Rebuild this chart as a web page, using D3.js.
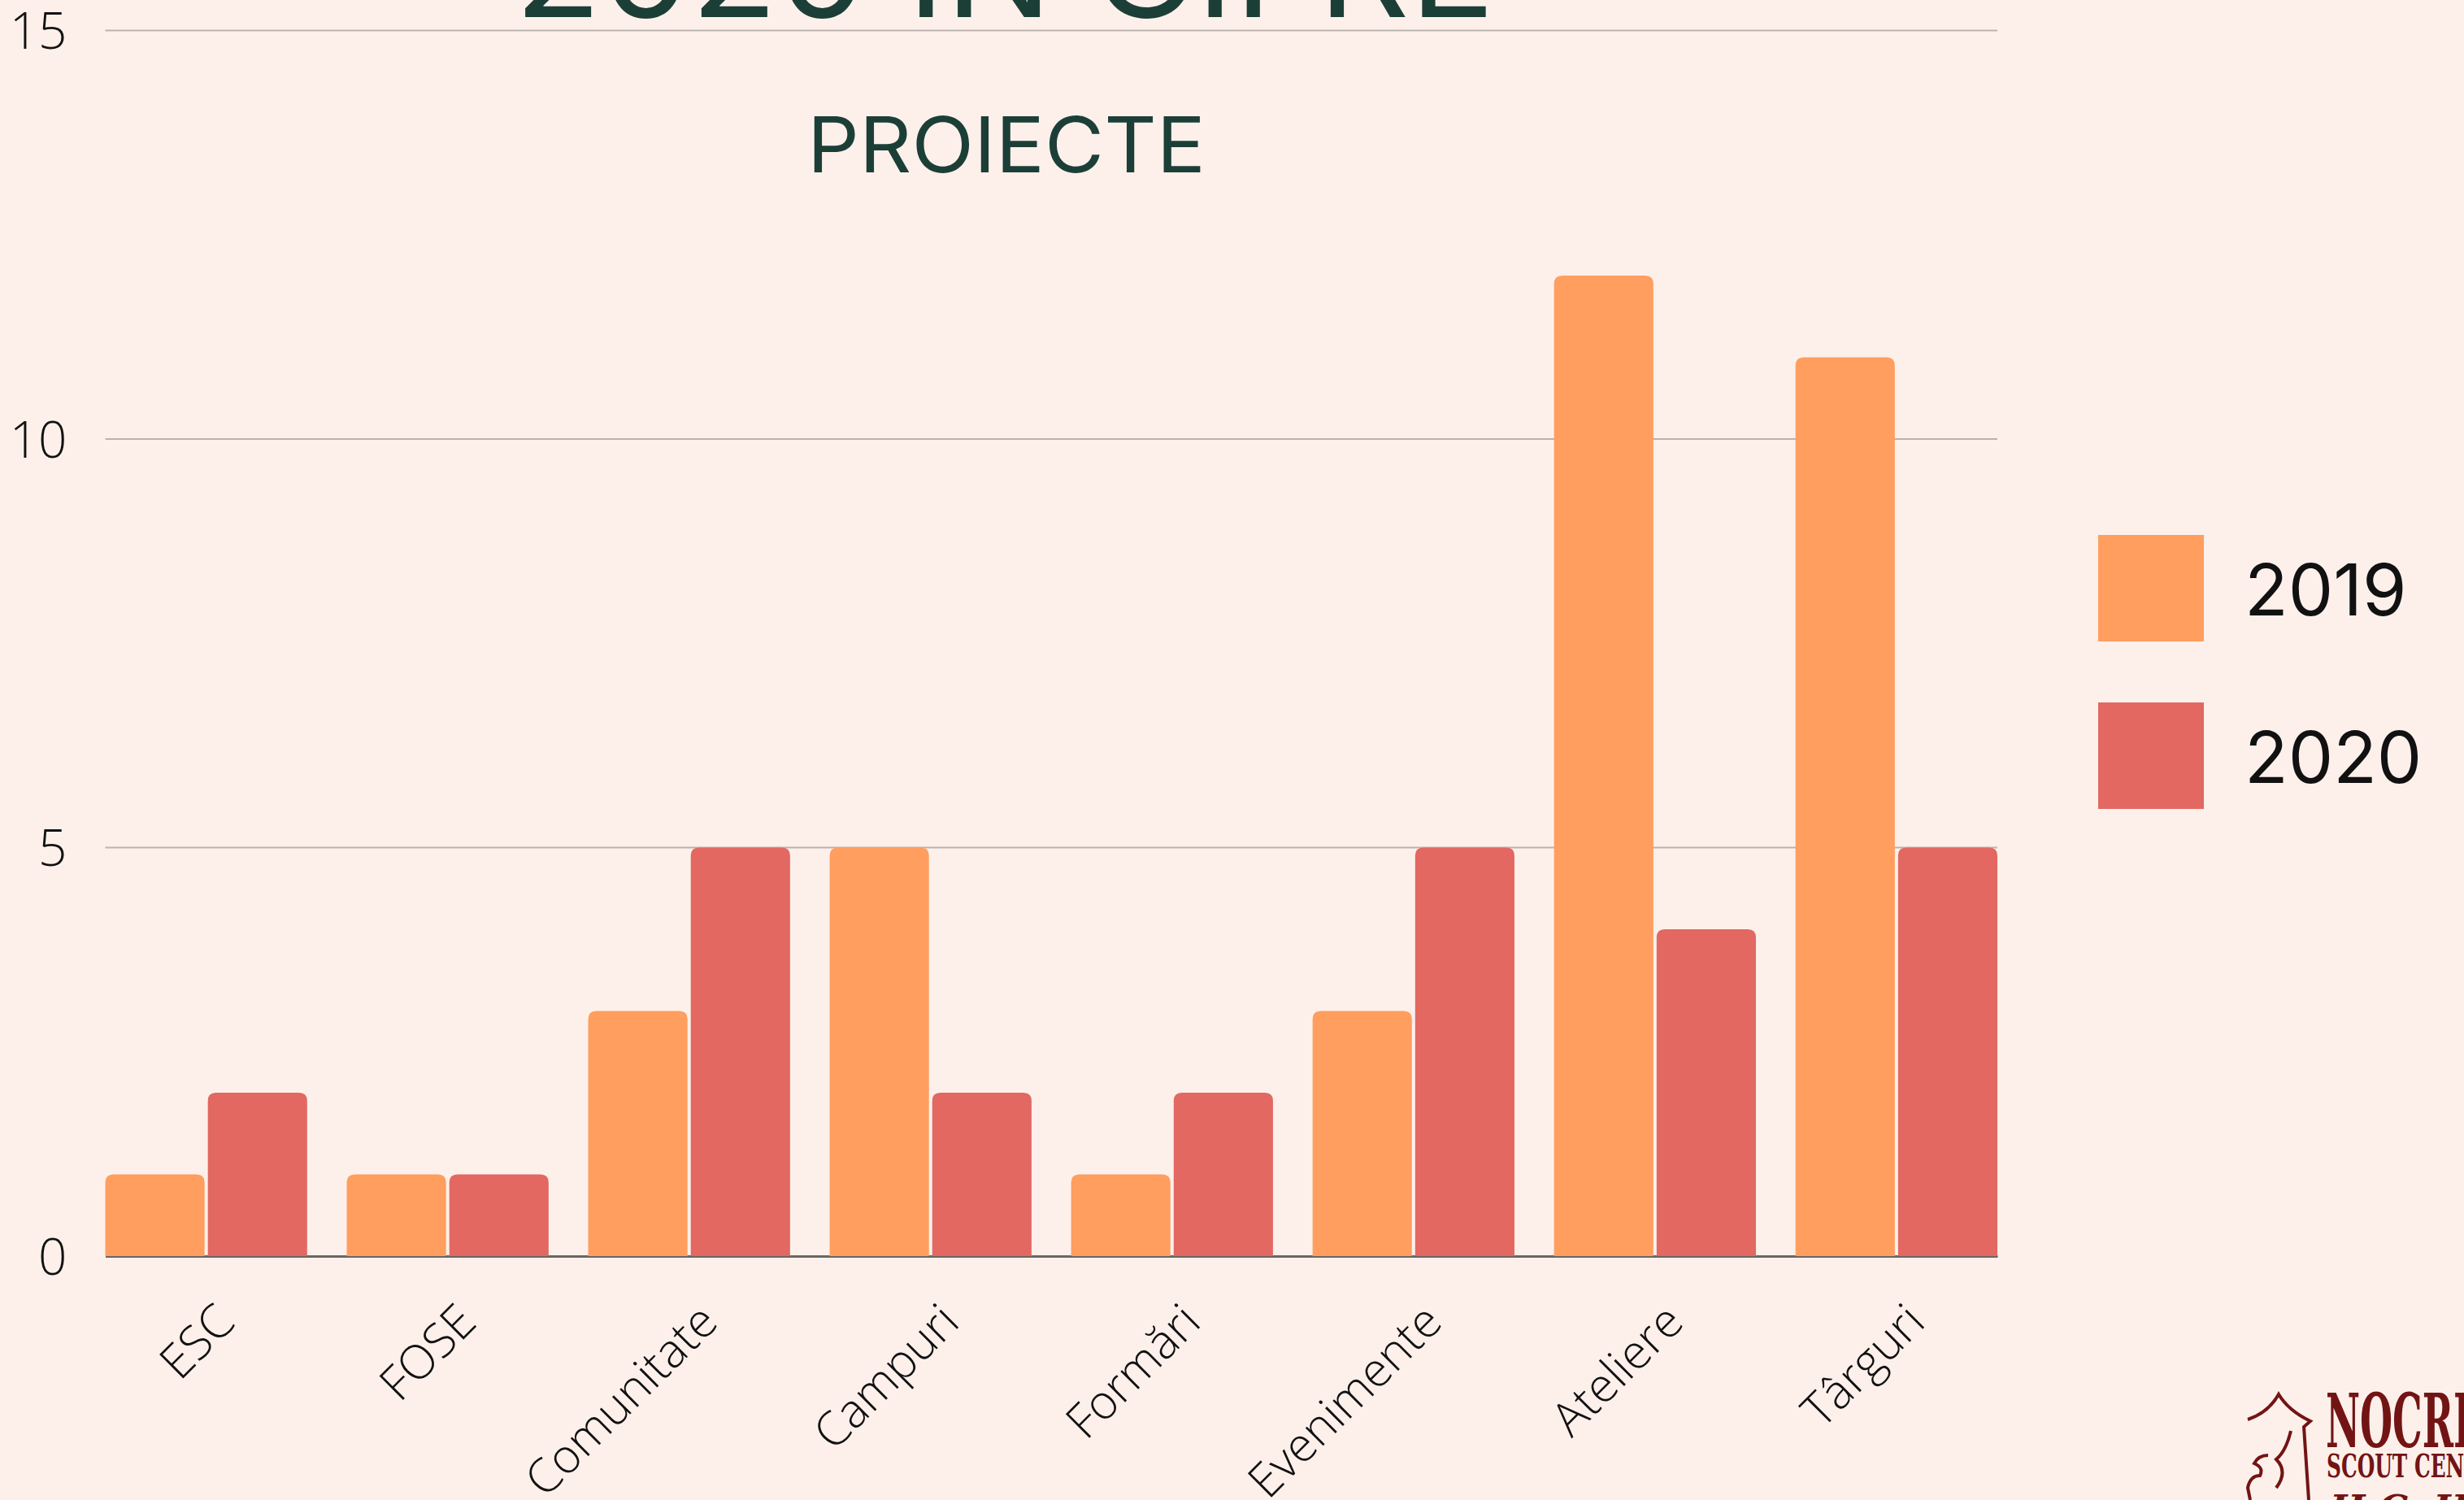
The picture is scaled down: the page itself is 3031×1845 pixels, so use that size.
<!doctype html>
<html lang="ro">
  <head>
    <meta charset="utf-8">
    <title>2020 în cifre - Proiecte</title>
    <script src="https://d3js.org/d3.v7.min.js"></script>
    <style>
      body { margin: 0; background: #fdf0eb; }
      svg { display: block; }
    </style>
  </head>
  <body>
    <div class="holder"></div>
    <script>
      // data
      const categories = ['ESC', 'FOSE', 'Comunitate', 'Campuri', 'Formări', 'Evenimente', 'Ateliere', 'Târguri'];
      const years = ['2019', '2020'];
      const values2019 = [1, 1, 3, 5, 1, 3, 12, 11];
      const values2020 = [2, 1, 5, 2, 2, 5, 4, 5];
      const yTicks = [0, 5, 10, 15];

      const w = 3031;
      const h = 1845;
      const plotLeft = 129.5, plotRight = 2457, plotBottom = 1545, plotTop = 37.5;
      const colors = { '2019': '#ff9e5f', '2020': '#e26861' };
      const bg = '#fdf0eb';

      const rows = categories.map((c, i) => ({ cat: c, '2019': values2019[i], '2020': values2020[i] }));

      const svg = d3.select('.holder')
        .append('svg')
        .attr('width', w)
        .attr('height', h);

      svg.append('rect').attr('width', w).attr('height', h).attr('fill', bg);

      const x0 = d3.scaleBand()
        .domain(categories)
        .range([plotLeft, plotRight])
        .paddingInner(0.164)
        .paddingOuter(0);

      const x1 = d3.scaleBand()
        .domain(years)
        .range([0, x0.bandwidth()])
        .paddingInner(0.032);

      const y = d3.scaleLinear()
        .domain([0, 15])
        .range([plotBottom, plotTop]);

      // gridlines
      svg.append('g')
        .selectAll('line')
        .data(yTicks.filter(d => d > 0))
        .join('line')
        .attr('x1', plotLeft)
        .attr('x2', plotRight)
        .attr('y1', d => y(d))
        .attr('y2', d => y(d))
        .attr('stroke', '#bcb2ae')
        .attr('stroke-width', 2);

      // y axis labels
      const yAxis = d3.axisLeft(y).tickValues(yTicks).tickSize(0).tickPadding(47);
      const gy = svg.append('g')
        .attr('transform', 'translate(' + plotLeft + ',0)')
        .call(yAxis);
      gy.select('.domain').remove();
      gy.selectAll('text')
        .attr('font-family', '"Open Sans", sans-serif')
        .attr('font-weight', 300)
        .attr('font-size', 62)
        .attr('fill', '#111')
        .attr('dy', '0.36em');

      // rounded top bars
      function barPath(bx, by, bw, bh, r) {
        r = Math.min(r, bh, bw / 2);
        return 'M' + bx + ',' + (by + bh) +
          'V' + (by + r) +
          'Q' + bx + ',' + by + ' ' + (bx + r) + ',' + by +
          'H' + (bx + bw - r) +
          'Q' + (bx + bw) + ',' + by + ' ' + (bx + bw) + ',' + (by + r) +
          'V' + (by + bh) + 'Z';
      }

      // x axis (baseline + labels)
      const xAxis = d3.axisBottom(x0).tickSize(0).tickSizeOuter(0);
      const gx = svg.append('g')
        .attr('transform', 'translate(0,' + plotBottom + ')')
        .call(xAxis);
      gx.select('.domain')
        .attr('stroke', '#6d6562')
        .attr('stroke-width', 3);
      gx.selectAll('text')
        .attr('x', 0)
        .attr('y', 0)
        .attr('dy', 0)
        .attr('text-anchor', 'end')
        .attr('transform', 'translate(38,84) rotate(-45)')
        .attr('font-family', '"Open Sans", sans-serif')
        .attr('font-weight', 300)
        .attr('font-size', 58)
        .attr('fill', '#111');

      // bars
      const groups = svg.append('g')
        .selectAll('g')
        .data(rows)
        .join('g')
        .attr('transform', d => 'translate(' + x0(d.cat) + ',0)');

      groups.selectAll('path')
        .data(d => years.map(k => ({ key: k, value: d[k] })))
        .join('path')
        .attr('d', d => barPath(x1(d.key), y(d.value), x1.bandwidth(), y(0) - y(d.value), 10))
        .attr('fill', d => colors[d.key]);

      // titles
      svg.append('text')
        .attr('x', 1236)
        .attr('y', 21)
        .attr('text-anchor', 'middle')
        .attr('font-family', 'Inter, sans-serif')
        .attr('font-size', 162)
        .attr('fill', '#1b3f37')
        .attr('textLength', 1206)
        .attr('lengthAdjust', 'spacingAndGlyphs')
        .text('2020 ÎN CIFRE');

      svg.append('text')
        .attr('x', 1238)
        .attr('y', 212)
        .attr('text-anchor', 'middle')
        .attr('font-family', 'Inter, sans-serif')
        .attr('font-size', 95)
        .attr('fill', '#1b3f37')
        .attr('textLength', 490)
        .attr('lengthAdjust', 'spacingAndGlyphs')
        .text('PROIECTE');

      // legend
      const legendY = [658, 864];
      const legend = svg.append('g')
        .selectAll('g')
        .data(years)
        .join('g')
        .attr('transform', (d, i) => 'translate(2581,' + legendY[i] + ')');
      legend.append('rect')
        .attr('width', 130)
        .attr('height', 131)
        .attr('fill', d => colors[d]);
      legend.append('text')
        .attr('x', 180)
        .attr('y', 99)
        .attr('font-family', 'Inter, sans-serif')
        .attr('font-size', 88)
        .attr('fill', '#111')
        .text(d => d);

      // logo (bottom right, cut by the frame)
      const logo = svg.append('g').attr('fill', '#731414');
      logo.append('path')
        .attr('d', 'M2765,1746 Q2790,1738 2803,1715 Q2815,1735 2842,1748 L2834,1755 L2840,1845 M2790,1790 Q2778,1790 2773,1800 Q2785,1805 2780,1815 Q2768,1815 2765,1830 L2768,1845 M2818,1760 Q2812,1785 2800,1795 Q2815,1810 2800,1830')
        .attr('fill', 'none')
        .attr('stroke', '#731414')
        .attr('stroke-width', 4);
      logo.append('text')
        .attr('transform', 'translate(2861,1780) scale(0.5,1)')
        .attr('font-family', '"DejaVu Serif", serif')
        .attr('font-weight', 'bold')
        .attr('font-size', 92)
        .text('NOCRICH');
      logo.append('text')
        .attr('transform', 'translate(2862,1817) scale(0.62,1)')
        .attr('font-family', '"DejaVu Serif", serif')
        .attr('font-weight', 'bold')
        .attr('font-size', 40)
        .text('SCOUT CENTER');
      logo.append('text')
        .attr('x', 2866)
        .attr('y', 1872)
        .attr('font-family', '"DejaVu Serif", serif')
        .attr('font-style', 'italic')
        .attr('font-weight', 'bold')
        .attr('font-size', 46)
        .text('H.C. Habermann');
    </script>
  </body>
</html>
